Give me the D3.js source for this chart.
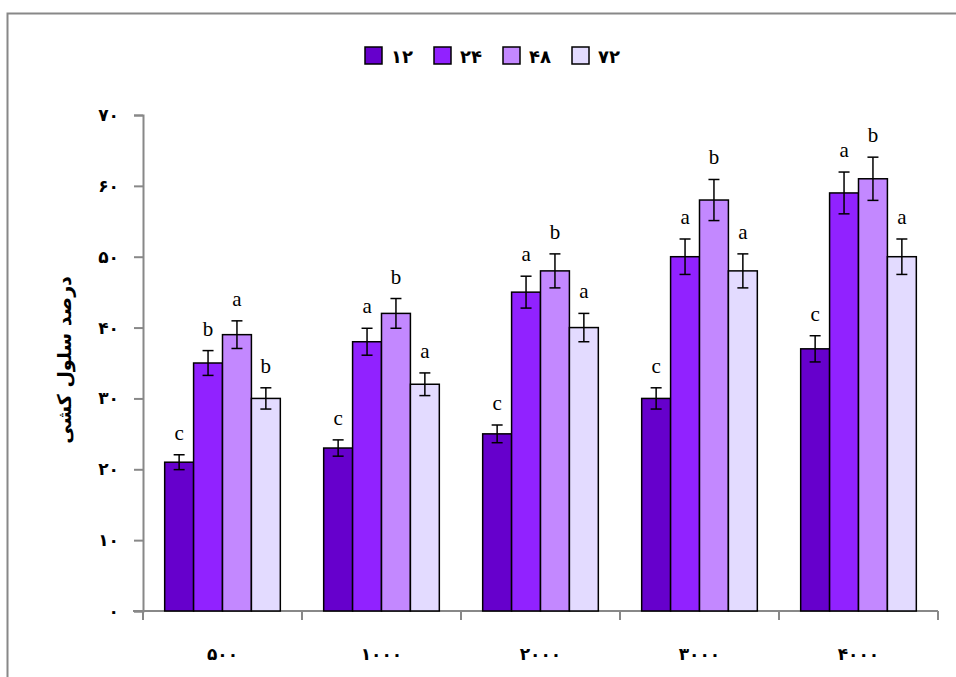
<!DOCTYPE html>
<html>
<head>
<meta charset="utf-8">
<script src="https://cdn.jsdelivr.net/npm/d3@7"></script>
<style>
  body { margin: 0; background: #fff; }
  svg { display: block; }
</style>
</head>
<body>
<div id="chart"></div>
<script>
// data
const categories = ["۵۰۰", "۱۰۰۰", "۲۰۰۰", "۳۰۰۰", "۴۰۰۰"];
const seriesNames = ["۱۲", "۲۴", "۴۸", "۷۲"];
const values12 = [21, 23, 25, 30, 37];
const values24 = [35, 38, 45, 50, 59];
const values48 = [39, 42, 48, 58, 61];
const values72 = [30, 32, 40, 48, 50];
const errors12 = [1.05, 1.15, 1.25, 1.5, 1.85];
const errors24 = [1.75, 1.9, 2.25, 2.5, 2.95];
const errors48 = [1.95, 2.1, 2.4, 2.9, 3.05];
const errors72 = [1.5, 1.6, 2.0, 2.4, 2.5];
const letters12 = ["c", "c", "c", "c", "c"];
const letters24 = ["b", "a", "a", "a", "a"];
const letters48 = ["a", "b", "b", "b", "b"];
const letters72 = ["b", "a", "a", "a", "a"];
const yTicks = [0, 10, 20, 30, 40, 50, 60, 70];
const yTitle = "درصد سلول کشی";

const colors = ["#6600cc", "#9122ff", "#c388ff", "#e3dbff"];

const width = 956;
const height = 677;
const margin = { top: 115, right: 18, bottom: 66, left: 143 };

const faDigits = "۰۱۲۳۴۵۶۷۸۹";
const toFa = n => String(n).replace(/\d/g, d => faDigits[+d]);

const seriesValues = [values12, values24, values48, values72];
const seriesErrors = [errors12, errors24, errors48, errors72];
const seriesLetters = [letters12, letters24, letters48, letters72];

const rows = [];
categories.forEach((c, ci) => {
    seriesNames.forEach((s, si) => {
        rows.push({
            cat: c, ser: s, si: si,
            value: seriesValues[si][ci],
            err: seriesErrors[si][ci],
            letter: seriesLetters[si][ci]
        });
    });
});

const svg = d3.select("#chart").append("svg")
    .attr("width", width)
    .attr("height", height);

// outer frame (right/bottom run off the page)
svg.append("rect")
    .attr("x", 7.5).attr("y", 13.5)
    .attr("width", 1200).attr("height", 1000)
    .attr("fill", "none")
    .attr("stroke", "#888")
    .attr("stroke-width", 2);

const x0 = d3.scaleBand()
    .domain(categories)
    .range([margin.left, width - margin.right])
    .padding(0);

const x1 = d3.scaleBand()
    .domain(seriesNames)
    .range([0, x0.bandwidth()])
    .paddingInner(0)
    .paddingOuter(0.75);

const y = d3.scaleLinear()
    .domain([0, 70])
    .range([height - margin.bottom, margin.top]);

const color = d3.scaleOrdinal().domain(seriesNames).range(colors);

// y axis
const yAxis = svg.append("g")
    .attr("transform", `translate(${margin.left},0)`)
    .call(d3.axisLeft(y).tickValues(yTicks).tickSize(9).tickPadding(15).tickFormat(toFa));
yAxis.select(".domain").attr("stroke", "#888").attr("stroke-width", 2);
yAxis.selectAll(".tick line").attr("stroke", "#888").attr("stroke-width", 2);
yAxis.selectAll(".tick text")
    .attr("font-family", "DejaVu Sans")
    .attr("font-weight", "bold")
    .attr("font-size", 17)
    .attr("fill", "#000");

// x axis line + boundary ticks
const baseY = y(0);
svg.append("line")
    .attr("x1", margin.left - 10).attr("x2", width - margin.right)
    .attr("y1", baseY).attr("y2", baseY)
    .attr("stroke", "#888").attr("stroke-width", 2);
const boundaries = categories.map(c => x0(c)).concat([x0(categories[categories.length - 1]) + x0.bandwidth()]);
svg.selectAll(".xtick")
    .data(boundaries)
    .join("line")
    .attr("class", "xtick")
    .attr("x1", d => d).attr("x2", d => d)
    .attr("y1", baseY).attr("y2", baseY + 9)
    .attr("stroke", "#888").attr("stroke-width", 2);

svg.selectAll(".xlabel")
    .data(categories)
    .join("text")
    .attr("class", "xlabel")
    .attr("x", d => x0(d) + x0.bandwidth() / 2)
    .attr("y", 660)
    .attr("text-anchor", "middle")
    .attr("font-family", "DejaVu Sans")
    .attr("font-weight", "bold")
    .attr("font-size", 17)
    .text(d => d);

// bars
svg.selectAll(".bar")
    .data(rows)
    .join("rect")
    .attr("class", "bar")
    .attr("x", d => x0(d.cat) + x1(d.ser))
    .attr("y", d => y(d.value))
    .attr("width", x1.bandwidth())
    .attr("height", d => y(0) - y(d.value))
    .attr("fill", d => color(d.ser))
    .attr("stroke", "#000")
    .attr("stroke-width", 1.5);

// error bars
const eb = svg.selectAll(".err")
    .data(rows)
    .join("g")
    .attr("class", "err")
    .attr("transform", d => `translate(${x0(d.cat) + x1(d.ser) + x1.bandwidth() / 2},0)`);
eb.append("line")
    .attr("y1", d => y(d.value + d.err)).attr("y2", d => y(d.value - d.err))
    .attr("stroke", "#000").attr("stroke-width", 1.5);
eb.append("line")
    .attr("x1", -5.5).attr("x2", 5.5)
    .attr("y1", d => y(d.value + d.err)).attr("y2", d => y(d.value + d.err))
    .attr("stroke", "#000").attr("stroke-width", 1.5);
eb.append("line")
    .attr("x1", -5.5).attr("x2", 5.5)
    .attr("y1", d => y(d.value - d.err)).attr("y2", d => y(d.value - d.err))
    .attr("stroke", "#000").attr("stroke-width", 1.5);

// significance letters
svg.selectAll(".letter")
    .data(rows)
    .join("text")
    .attr("class", "letter")
    .attr("x", d => x0(d.cat) + x1(d.ser) + x1.bandwidth() / 2)
    .attr("y", d => y(d.value + d.err) - 15)
    .attr("text-anchor", "middle")
    .attr("font-family", "Liberation Serif")
    .attr("font-size", 21)
    .text(d => d.letter);

// y title
svg.append("text")
    .attr("transform", `translate(71,${(y(0) + y(70)) / 2 - 3}) rotate(-90)`)
    .attr("text-anchor", "middle")
    .attr("font-family", "DejaVu Sans")
    .attr("font-weight", "bold")
    .attr("font-size", 19)
    .text(yTitle);

// legend
const legend = svg.selectAll(".legend")
    .data(seriesNames)
    .join("g")
    .attr("class", "legend")
    .attr("transform", (d, i) => `translate(${365 + i * 69},47)`);
legend.append("rect")
    .attr("width", 17).attr("height", 17)
    .attr("fill", d => color(d))
    .attr("stroke", "#000")
    .attr("stroke-width", 1.5);
legend.append("text")
    .attr("x", 26).attr("y", 16)
    .attr("font-family", "DejaVu Sans")
    .attr("font-weight", "bold")
    .attr("font-size", 18)
    .text(d => d);
</script>
</body>
</html>
